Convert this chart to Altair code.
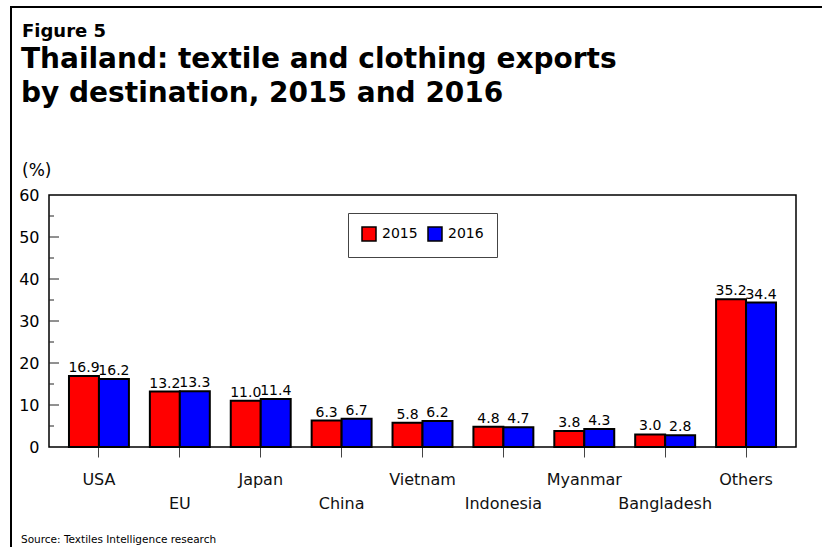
import altair as alt
import pandas as pd

categories = ["USA", "EU", "Japan", "China", "Vietnam", "Indonesia", "Myanmar", "Bangladesh", "Others"]
values_2015 = [16.9, 13.2, 11.0, 6.3, 5.8, 4.8, 3.8, 3.0, 35.2]
values_2016 = [16.2, 13.3, 11.4, 6.7, 6.2, 4.7, 4.3, 2.8, 34.4]
years = ["2015", "2016"]
y_ticks = [0, 10, 20, 30, 40, 50, 60]
y_major_inner = [10, 20, 30, 40, 50]
y_minor_inner = [5, 15, 25, 35, 45, 55]
fig_label = "Figure 5"
title_line1 = "Thailand: textile and clothing exports"
title_line2 = "by destination, 2015 and 2016"
unit_label = "(%)"
source_text = "Source: Textiles Intelligence research"

FONT = "DejaVu Sans"

rows = []
for i, c in enumerate(categories):
    for yr, vals in zip(years, [values_2015, values_2016]):
        rows.append({"category": c, "year": yr, "value": vals[i], "label": f"{vals[i]:.1f}"})
bars_df = pd.DataFrame(rows)
cat_df = pd.DataFrame({"category": categories, "row": [i % 2 for i in range(len(categories))]})

x_scale = alt.Scale(paddingInner=0.259, paddingOuter=0.247)
x_axis = alt.Axis(labels=False, ticks=True, tickSize=10, tickColor="#444", tickWidth=1,
                  domain=False, grid=False, title=None)
y_scale = alt.Scale(domain=[0, 60], nice=False)
y_axis = alt.Axis(values=y_ticks, ticks=False, domain=False, grid=False, labelPadding=10,
                  labelFontSize=16, labelFont=FONT, labelColor="black", title=None)

base = alt.Chart(bars_df)

bars = base.mark_bar(stroke="black", strokeWidth=2).encode(
    x=alt.X("category:N", sort=categories, scale=x_scale, axis=x_axis),
    xOffset=alt.XOffset("year:N", sort=years, scale=alt.Scale(paddingInner=0, paddingOuter=0)),
    y=alt.Y("value:Q", scale=y_scale, axis=y_axis),
    color=alt.Color("year:N", scale=alt.Scale(domain=years, range=["#ff0000", "#0000ff"]),
                    legend=alt.Legend(title=None, orient="none", legendX=299, legendY=18,
                                      direction="horizontal", padding=13, strokeColor="#444",
                                      fillColor="white", symbolType="square", symbolSize=196,
                                      symbolStrokeColor="black", symbolStrokeWidth=1.5,
                                      symbolOpacity=1, labelFontSize=14, labelFont=FONT,
                                      labelColor="black", labelOffset=5, columnPadding=7)),
)

value_text = base.mark_text(baseline="alphabetic", dy=-4, fontSize=14, font=FONT, color="black").encode(
    x=alt.X("category:N", sort=categories, axis=x_axis),
    xOffset=alt.XOffset("year:N", sort=years),
    y=alt.Y("value:Q", axis=y_axis),
    text="label:N",
)

major_ticks = alt.Chart(pd.DataFrame({"value": y_major_inner})).mark_rule(color="#222", strokeWidth=1).encode(
    x=alt.value(0), x2=alt.value(10), y=alt.Y("value:Q", axis=y_axis))
minor_ticks = alt.Chart(pd.DataFrame({"value": y_minor_inner})).mark_rule(color="#222", strokeWidth=1).encode(
    x=alt.value(0), x2=alt.value(5), y=alt.Y("value:Q", axis=y_axis))

cat_base = alt.Chart(cat_df)
cat_row0 = cat_base.transform_filter("datum.row == 0").mark_text(
    baseline="alphabetic", fontSize=16, font=FONT, color="#111").encode(
    x=alt.X("category:N", sort=categories, axis=x_axis), y=alt.value(290), text="category:N")
cat_row1 = cat_base.transform_filter("datum.row == 1").mark_text(
    baseline="alphabetic", fontSize=16, font=FONT, color="#111").encode(
    x=alt.X("category:N", sort=categories, axis=x_axis), y=alt.value(314), text="category:N")


def label(text, x, y, size, bold=False):
    return alt.Chart(pd.DataFrame({"t": [text]})).mark_text(
        align="left", baseline="alphabetic", fontSize=size, font=FONT,
        fontWeight="bold" if bold else "normal", color="black").encode(
        x=alt.value(x), y=alt.value(y), text="t:N")


t_fig = label(fig_label, -27, -158, 18, True)
t_l1 = label(title_line1, -28, -127, 28, True)
t_l2 = label(title_line2, -28, -93, 28, True)
t_unit = label(unit_label, -27, -19, 17)
t_src = label(source_text, -28, 348, 10.5)

one = pd.DataFrame({"a": [0]})
border_left = alt.Chart(one).mark_rule(color="black", strokeWidth=2).encode(
    x=alt.value(-38), y=alt.value(-188), y2=alt.value(360))
border_top = alt.Chart(one).mark_rule(color="black", strokeWidth=2).encode(
    x=alt.value(-39), x2=alt.value(790), y=alt.value(-188))

chart = alt.layer(
    bars, value_text, major_ticks, minor_ticks, cat_row0, cat_row1,
    t_fig, t_l1, t_l2, t_unit, t_src, border_left, border_top
).properties(
    width=747, height=252,
    autosize=alt.AutoSizeParams(type="none"),
    padding={"left": 49, "top": 195, "right": 26, "bottom": 100},
    background="white",
).configure_view(stroke="black", strokeWidth=1.5)

chart.save("out.html", embed_options={"renderer": "svg", "actions": False})
